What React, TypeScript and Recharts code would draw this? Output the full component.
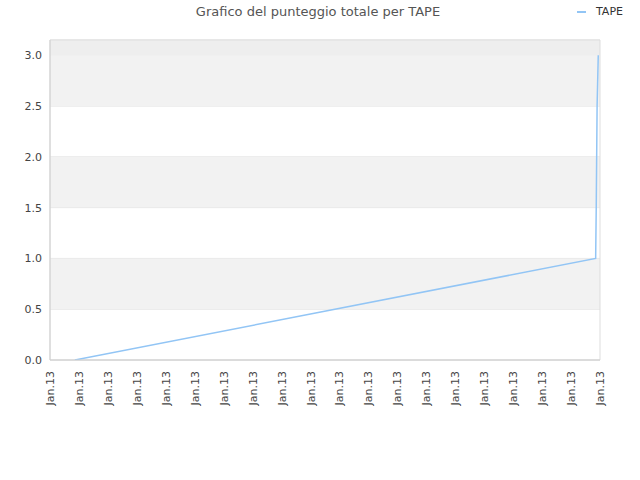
import React from 'react';
import { CartesianGrid, Line, LineChart, ReferenceArea, XAxis, YAxis } from 'recharts';

// cumulative score over time (x in tick units, all ticks fall on "Jan.13")
const times = [0.86, 18.85, 18.87, 18.9, 18.94];
const scores = [0, 1.0, 1.5, 2.5, 3.0];
const tickPositions = [0, 1, 2, 3, 4, 5, 6, 7, 8, 9, 10, 11, 12, 13, 14, 15, 16, 17, 18, 19];
const tickLabel = 'Jan.13';
const yTicks = [0, 0.5, 1.0, 1.5, 2.0, 2.5, 3.0];
const bands = [
  [0.5, 1.0],
  [1.5, 2.0],
  [2.5, 3.0],
];

const data = times.map((t, i) => ({ t, score: scores[i] }));

const font = '"DejaVu Sans", sans-serif';
const lineColor = '#92c5f5';

const XTick = ({ x, y }: any) => (
  <text
    x={0}
    y={0}
    transform={`translate(${x + 4},${y + 3}) rotate(-90)`}
    textAnchor="end"
    fontSize={11}
    fill="#444"
    fontFamily={font}
  >
    {tickLabel}
  </text>
);

export default function App() {
  return (
    <div style={{ position: 'relative', width: 640, height: 480, background: '#fff' }}>
      <style>{'body{margin:0}'}</style>
      <div
        style={{
          position: 'absolute',
          top: 4,
          left: 0,
          width: 636,
          textAlign: 'center',
          fontFamily: font,
          fontSize: 13,
          color: '#555',
        }}
      >
        Grafico del punteggio totale per TAPE
      </div>
      <div
        style={{
          position: 'absolute',
          top: 5,
          left: 577,
          display: 'flex',
          alignItems: 'center',
          fontFamily: font,
          fontSize: 11,
          color: '#333',
        }}
      >
        <span style={{ display: 'inline-block', width: 9, height: 2, background: lineColor, marginRight: 10 }} />
        TAPE
      </div>
      <LineChart width={640} height={480} data={data} margin={{ top: 40, right: 40, bottom: 0, left: 0 }}>
        {bands.map(([a, b]) => (
          <ReferenceArea key={a} y1={a} y2={b} fill="#f2f2f2" fillOpacity={1} stroke="none" />
        ))}
        <ReferenceArea y1={3.0} y2={3.15} fill="#eeeeee" fillOpacity={1} stroke="none" />
        <CartesianGrid vertical={false} stroke="#e2e2e2" />
        <ReferenceArea y1={0} y2={3.15} fill="none" stroke="#dddddd" strokeWidth={1} />
        <XAxis
          dataKey="t"
          type="number"
          domain={[0, 19]}
          ticks={tickPositions}
          interval={0}
          height={120}
          tick={<XTick />}
          tickLine={false}
          axisLine={{ stroke: '#d0d0d0' }}
        />
        <YAxis
          type="number"
          domain={[0, 3.15]}
          ticks={yTicks}
          width={50}
          tickFormatter={(v: number) => v.toFixed(1)}
          tick={{ fontSize: 11, fill: '#444', fontFamily: font }}
          tickLine={false}
          axisLine={{ stroke: '#d0d0d0' }}
          allowDataOverflow
        />
        <Line
          type="linear"
          dataKey="score"
          stroke={lineColor}
          strokeWidth={1.5}
          dot={false}
          isAnimationActive={false}
        />
      </LineChart>
    </div>
  );
}
